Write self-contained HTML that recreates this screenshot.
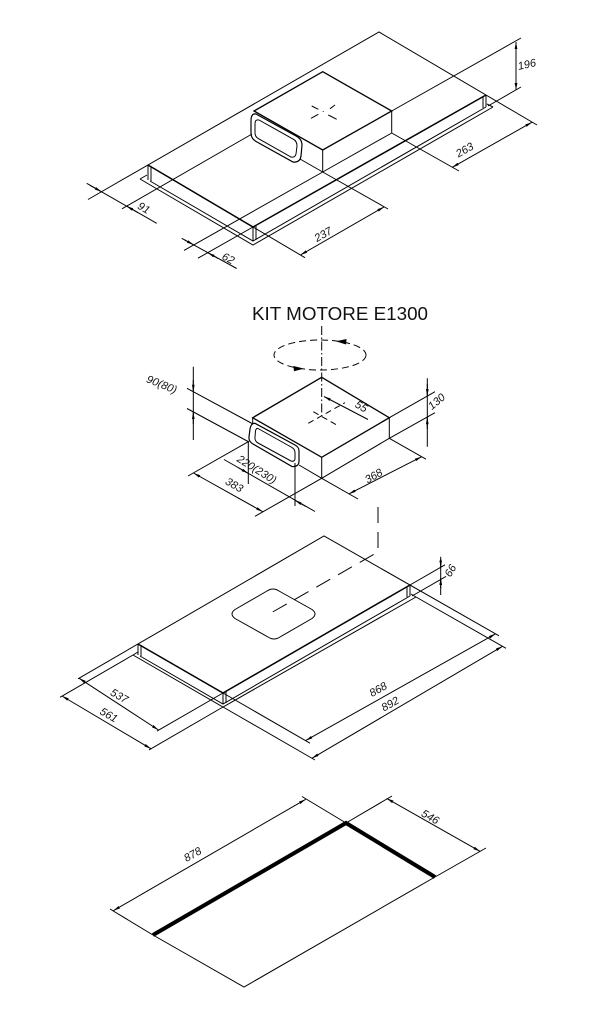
<!DOCTYPE html>
<html><head><meta charset="utf-8"><style>
html,body{margin:0;padding:0;background:#fff;}
svg{display:block;}
text{font-family:"Liberation Sans",sans-serif;fill:#111;}
.d{font-size:11px;text-anchor:middle;dominant-baseline:central;font-style:italic;}
</style></head><body>
<svg width="600" height="1017" viewBox="0 0 600 1017" xmlns="http://www.w3.org/2000/svg">
<defs>
<marker id="a" viewBox="0 0 10 4" refX="10" refY="2" markerWidth="7" markerHeight="2.8" markerUnits="userSpaceOnUse" orient="auto-start-reverse"><path d="M0,0L10,2L0,4z" fill="#000"/></marker>
</defs>
<rect width="600" height="1017" fill="#fff"/>

<!-- ============ TOP DRAWING ============ -->
<g stroke="#000" fill="none" stroke-width="1">
<path d="M88,199.5 L379,32 L537,125"/>
<path d="M148,165 L253,227 L486,95" stroke-width="1.5"/>
<path d="M148,165V180 M151,167V181 M253,227V241 M256,226V240 M486,95V107 M483,97V108"/>
<path d="M150,181 L253,241 L486,107"/>
<path d="M140,179 L253,245 L493,107 M140,179 L147,175 M493,107 L487,104"/>
<!-- motor box -->
<path d="M322.7,71.7 L391.7,111 L322.7,150 L254,111 Z" stroke-width="1.3"/>
<path d="M322.7,150V172 M391.7,111V133 M322.7,172 L391.7,133 M300,159 L322.7,172"/>
<path d="M256,114 L296,136 Q302,139 302,145 L301,156 Q300,163 293,162 L257,142 Q251,139 251,133 L251,121 Q251,113 256,114 Z" stroke-width="1.2"/>
<path d="M259,120 L293,139 Q297,141 297,146 L296,154 Q295,158 291,157 L259,139 Q255,137 255,133 L255,124 Q255,119 259,120 Z"/>
<path d="M311.7,106 L318.3,109.3 M328.3,115 L336.7,119.3 M311,118.3 L318.3,114.3 M330,108.7 L335,105 M322.8,111.5 L323.6,111.5"/>
<!-- 196 -->
<path d="M516,42 V90" marker-start="url(#a)" marker-end="url(#a)"/>
<path d="M391.7,111 L521,38 M488,106 L521,87"/>
<!-- 263 -->
<path d="M391.7,133 L459,171"/>
<path d="M452.1,167.4 L532,122.2" marker-start="url(#a)" marker-end="url(#a)"/>
<!-- 237 -->
<path d="M322.7,172 L388,209 M253,227 L305,257.7"/>
<path d="M300.4,255 L384.1,206.9" marker-start="url(#a)" marker-end="url(#a)"/>
<!-- 62 -->
<path d="M322.7,172 L184,250.4 M253,227 L198,258.2"/>
<path d="M181.7,238.3 L236.7,268.5"/>
<path d="M184,239.6 L193.6,244.8" marker-end="url(#a)"/>
<path d="M218,258.4 L207.8,252.7" marker-end="url(#a)"/>
<!-- 91 -->
<path d="M252,134 L122,208.8"/>
<path d="M86.7,183.3 L156.7,223.3"/>
<path d="M90,185.3 L101.5,191.8" marker-end="url(#a)"/>
<path d="M138,212.7 L126.6,206.1" marker-end="url(#a)"/>
</g>
<text class="d" transform="translate(527,65) rotate(-12)">196</text>
<text class="d" transform="translate(465,150.5) rotate(-30)">263</text>
<text class="d" transform="translate(143.5,208.5) rotate(30)">91</text>
<text class="d" transform="translate(323.5,235) rotate(-30)">237</text>
<text class="d" transform="translate(228,259) rotate(28)">62</text>

<!-- ============ MIDDLE DRAWING ============ -->
<text x="252" y="320" font-size="18" textLength="176" lengthAdjust="spacingAndGlyphs">KIT MOTORE E1300</text>
<g stroke="#000" fill="none" stroke-width="1">
<path d="M321.7,326 V418" stroke-dasharray="9 2.5 1.5 2.5"/>
<ellipse cx="320" cy="355" rx="46" ry="15" stroke-dasharray="7 4"/>
<path d="M338,341.4 L346,339.6 L345.6,343.8 Z M302,368.6 L294,366.6 L294.4,370.6 Z" fill="#000"/>
<path d="M321.7,377.3 L389.3,417.7 L321.7,457.3 L252.7,417.7 Z" stroke-width="1.3"/>
<path d="M321.7,457.3V478.3 M389.3,417.7V438.3 M321.7,478.3 L389.3,438.3 M299,465 L321.7,478.3 M252.7,417.7V424"/>
<path d="M255,423.3 L295,445 Q299,447 299,451 L299,461 Q299,467 292,466.5 L253,444 Q248.5,441.5 249,437 L250,429 Q251,423 255,423.3 Z" stroke-width="1.2"/>
<path d="M258,428.5 L292,447.5 Q295,449.5 295,452.5 L295,459 Q294.5,462 291,461 L258,443 Q254.5,441 255,437 L255.5,431 Q256,428 258,428.5 Z"/>
<path d="M308.3,423.3 L345,402.7 M313.3,411.7 L336.7,425" stroke-dasharray="6 4"/>
<path d="M324,396.5 L368,419.5" marker-start="url(#a)"/>
<!-- 90(80) -->
<path d="M193.3,366.7 V440 M187,388.3 L253,424 M187,408.5 L249,442"/>
<path d="M193.3,380 V391.7" marker-end="url(#a)"/>
<path d="M193.3,424 V412.1" marker-end="url(#a)"/>
<!-- 220(230) -->
<path d="M248.3,442 V484 M295,463 V506 M224,459.5 L315,511.5"/>
<path d="M238,467.5 L248.3,473.4" marker-end="url(#a)"/>
<path d="M306,506.6 L295,500.3" marker-end="url(#a)"/>
<!-- 383 -->
<path d="M248.3,441.7 L188,476 M321.7,478.3 L255,516.3"/>
<path d="M193.5,473 L262.9,511.8" marker-start="url(#a)" marker-end="url(#a)"/>
<!-- 368 -->
<path d="M321.7,478.3 L358,499 M389.3,438.3 L426,459.2"/>
<path d="M348.9,493.9 L421.7,456.7" marker-start="url(#a)" marker-end="url(#a)"/>
<!-- 130 -->
<path d="M427.3,378.3 V446.7 M389.3,417.7 L435,391.7 M389.3,438.3 L435,412.7"/>
<path d="M427.3,384 V396" marker-end="url(#a)"/>
<path d="M427.3,429 V417.3" marker-end="url(#a)"/>
<!-- connector -->
<path d="M378,507 V552 L270,613.5" stroke-dasharray="16 9"/>
</g>
<text class="d" transform="translate(161.5,385) rotate(22)">90(80)</text>
<text class="d" transform="translate(361,407) rotate(30)">55</text>
<text class="d" transform="translate(437,402) rotate(-40)">130</text>
<text class="d" transform="translate(256.5,470) rotate(32)">220(230)</text>
<text class="d" transform="translate(234,485.5) rotate(30)">383</text>
<text class="d" transform="translate(374,476.5) rotate(-30)">368</text>

<!-- ============ PANEL ============ -->
<g stroke="#000" fill="none" stroke-width="1">
<path d="M78,678.8 L324,536 L499,635.8"/>
<path d="M138,644 L223,693 L410,585" stroke-width="1.5"/>
<path d="M138,644V655 M141,646V656 M223,693V704 M226,692V703 M410,585V596 M407,587V597"/>
<path d="M140,656 L223,704 L410,596"/>
<path d="M133,655 L223,707 L416,597 M133,655 L138,652 M416,597 L411,594"/>
<path d="M267,591 Q273,587 279,591 L312,609.5 Q318,614 312,618.5 L280,637 Q274,641 268,637 L235,618.5 Q229,614 235,609.5 Z"/>
<!-- 66 -->
<path d="M440.7,556.7 V595 M410,585 L445,564.8 M412,596 L446,576.4"/>
<path d="M440.7,559 V567.3" marker-end="url(#a)"/>
<path d="M440.7,588 V578" marker-end="url(#a)"/>
<!-- 537 -->
<path d="M223,693 L157,731.1"/>
<path d="M79,678.2 L158.5,730" marker-start="url(#a)" marker-end="url(#a)"/>
<!-- 561 -->
<path d="M133,655 L60,697.3 M223,707 L149,749.9"/>
<path d="M62,696 L151,748.8" marker-start="url(#a)" marker-end="url(#a)"/>
<!-- 868 / 892 -->
<path d="M223,693 L310,743.2 M223,707 L315,760 M416,597 L506,648.3"/>
<path d="M305.6,740.6 L495.6,633.8" marker-start="url(#a)" marker-end="url(#a)"/>
<path d="M311.9,758.3 L502.5,646.3" marker-start="url(#a)" marker-end="url(#a)"/>
</g>
<text class="d" transform="translate(451,571) rotate(-60)">66</text>
<text class="d" transform="translate(119,696.5) rotate(30)">537</text>
<text class="d" transform="translate(108.5,715.5) rotate(30)">561</text>
<text class="d" transform="translate(378.5,690) rotate(-30)">868</text>
<text class="d" transform="translate(390.5,704.5) rotate(-30)">892</text>

<!-- ============ BOTTOM ============ -->
<g stroke="#000" fill="none" stroke-width="1">
<path d="M153,935 L346,823 L435,877" stroke-width="4" stroke-linejoin="miter"/>
<path d="M435,877 L244,987 L153,935"/>
<path d="M153,935 L110,909 M346,823 L302,796.5 M346,823 L392,796 M435,877 L486,848"/>
<path d="M113.3,910.7 L305.7,799.3" marker-start="url(#a)" marker-end="url(#a)"/>
<path d="M386.7,798.4 L480.2,851.4" marker-start="url(#a)" marker-end="url(#a)"/>
</g>
<text class="d" transform="translate(193,855) rotate(-30)">878</text>
<text class="d" transform="translate(430,817.5) rotate(30)">546</text>
</svg>
</body></html>
